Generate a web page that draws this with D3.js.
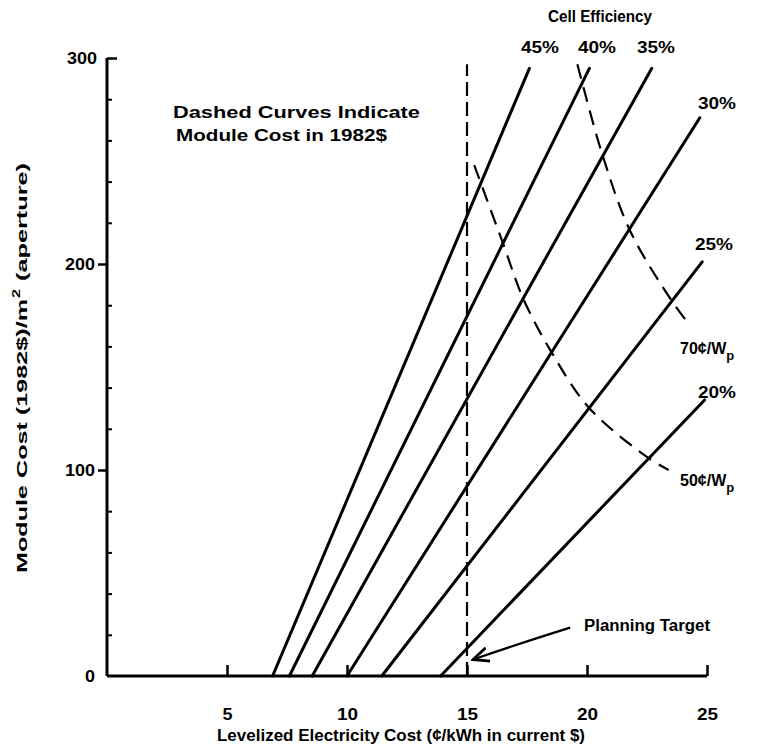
<!DOCTYPE html>
<html><head><meta charset="utf-8">
<script src="https://cdn.jsdelivr.net/npm/d3@7"></script>
<style>
body{margin:0;background:#fff}
svg text{font-family:"Liberation Sans",Arial,sans-serif;font-weight:bold;fill:#000}
</style>
</head><body>
<svg id="c" width="762" height="750"></svg>
<script>
// ---- data ----
const xTicks = [5, 10, 15, 20, 25];
const yTicks = [0, 100, 200, 300];
const yMinorTicks = [20, 40, 60, 80, 120, 140, 160, 180, 220, 240, 260, 280];
const efficiencyLabels = ["45%", "40%", "35%", "30%", "25%", "20%"];
const lineStartX = [6.9, 7.6, 8.55, 10.0, 11.45, 13.9];
const lineStartY = [0, 0, 0, 0, 0, 0];
const lineEndX = [17.6, 20.1, 22.7, 24.7, 24.8, 24.9];
const lineEndY = [295, 295, 295, 271, 201, 134];
const priceLabels = ["70¢/W", "50¢/W"];
const curve70X = [19.6, 19.8, 20.67, 21.8, 23.54, 24.3];
const curve70Y = [297, 288, 252, 216, 182, 170];
const curve50X = [15.3, 16.5, 17.35, 18.53, 20.1, 22.54, 23.4];
const curve50Y = [248, 210, 183, 157, 130, 106, 100];
const planningTarget = 15;
const planningTop = 297;

// ---- chart ----
const svg = d3.select("#c");
const x = d3.scaleLinear().domain([0, 25]).range([107, 707]);
const y = d3.scaleLinear().domain([0, 300]).range([676, 58]);

// x axis
const xAxis = svg.append("g").attr("transform", `translate(0,${y(0)})`)
  .call(d3.axisBottom(x).tickValues(xTicks).tickSize(-11).tickSizeOuter(0).tickPadding(33));
xAxis.select(".domain").attr("stroke-width", 3).attr("d", `M${x(0)},0H${x(25)}`);
xAxis.selectAll(".tick line").attr("stroke-width", 2.5);
xAxis.selectAll(".tick text").style("font-size", "16px").attr("font-family", null)
  .attr("textLength", d => d < 10 ? 10 : 21).attr("lengthAdjust", "spacingAndGlyphs");

// y axis major
const yAxis = svg.append("g").attr("transform", `translate(${x(0)},0)`)
  .call(d3.axisLeft(y).tickValues(yTicks).tickSize(9).tickSizeOuter(0).tickPadding(6));
yAxis.select(".domain").attr("stroke-width", 3).attr("d", `M0,${y(300)}V${y(0)}`);
yAxis.selectAll(".tick line").attr("stroke-width", 2.5)
  .attr("x2", d => d === 0 ? 0 : (d === 300 ? 10 : -9));
yAxis.selectAll(".tick text").style("font-size", "16px").attr("font-family", null)
  .attr("x", d => d === 300 ? -10 : -12)
  .attr("textLength", d => d === 0 ? 10 : 30).attr("lengthAdjust", "spacingAndGlyphs");

// y axis minor
const yMinor = svg.append("g").attr("transform", `translate(${x(0)},0)`)
  .call(d3.axisLeft(y).tickValues(yMinorTicks).tickSize(-5).tickFormat(""));
yMinor.select(".domain").remove();
yMinor.selectAll(".tick line").attr("stroke-width", 2);

// efficiency lines
const eff = efficiencyLabels.map((l, i) => ({
  label: l, pts: [[lineStartX[i], lineStartY[i]], [lineEndX[i], lineEndY[i]]]
}));
const line = d3.line().x(d => x(d[0])).y(d => y(d[1]));
svg.append("g").selectAll("path").data(eff).join("path")
  .attr("d", d => line(d.pts)).attr("fill", "none").attr("stroke", "#000")
  .attr("stroke-width", 3).attr("stroke-linecap", "round");

// planning target vertical dashed
svg.append("path")
  .attr("d", line([[planningTarget, 0], [planningTarget, planningTop]]))
  .attr("stroke", "#000").attr("stroke-width", 2.2).attr("stroke-dasharray", "14,6").attr("fill", "none");

// dashed price curves
const curveLine = d3.line().x(d => x(d[0])).y(d => y(d[1])).curve(d3.curveCatmullRom.alpha(0.5));
const curves = [curve70X.map((v, i) => [v, curve70Y[i]]), curve50X.map((v, i) => [v, curve50Y[i]])];
svg.append("g").selectAll("path").data(curves).join("path")
  .attr("d", d => curveLine(d)).attr("fill", "none").attr("stroke", "#000")
  .attr("stroke-width", 2.2).attr("stroke-dasharray", "15,9");

// efficiency labels
const effLabelPos = [[540, 53], [597, 53], [656, 53], [717, 109], [714, 250], [717, 398]];
svg.append("g").selectAll("text").data(eff).join("text")
  .attr("x", (d, i) => effLabelPos[i][0]).attr("y", (d, i) => effLabelPos[i][1])
  .attr("text-anchor", "middle").style("font-size", "16px")
  .attr("textLength", 38).attr("lengthAdjust", "spacingAndGlyphs").text(d => d.label);

svg.append("text").attr("x", 600).attr("y", 22).attr("text-anchor", "middle")
  .style("font-size", "16px").attr("textLength", 104).attr("lengthAdjust", "spacingAndGlyphs")
  .text("Cell Efficiency");

// price labels
const priceLabelPos = [[680, 354], [680, 486]];
priceLabels.forEach((t, i) => {
  const tx = svg.append("text").attr("x", priceLabelPos[i][0]).attr("y", priceLabelPos[i][1])
    .style("font-size", "16px");
  tx.append("tspan").text(t);
  tx.append("tspan").attr("dy", 6).style("font-size", "13px").text("p");
});

// dashed curves note
svg.append("text").attr("x", 173).attr("y", 118).style("font-size", "16px")
  .attr("textLength", 247).attr("lengthAdjust", "spacingAndGlyphs").text("Dashed Curves Indicate");
svg.append("text").attr("x", 176).attr("y", 141).style("font-size", "16px")
  .attr("textLength", 211).attr("lengthAdjust", "spacingAndGlyphs").text("Module Cost in 1982$");

// planning target
svg.append("text").attr("x", 584).attr("y", 631).style("font-size", "16px")
  .attr("textLength", 126).attr("lengthAdjust", "spacingAndGlyphs").text("Planning Target");
svg.append("defs").append("marker").attr("id", "ah").attr("viewBox", "0 0 10 10")
  .attr("refX", 9).attr("refY", 5).attr("markerWidth", 8).attr("markerHeight", 8)
  .attr("orient", "auto-start-reverse")
  .append("path").attr("d", "M0,1 L9,5 L0,9").attr("fill", "none").attr("stroke", "#000").attr("stroke-width", 1.6);
svg.append("path")
  .attr("d", `M${x(19.3)},${y(23.5)} Q${x(17.5)},${y(17)} ${x(15.25)},${y(8)}`)
  .attr("fill", "none").attr("stroke", "#000").attr("stroke-width", 2.2).attr("marker-end", "url(#ah)");

// axis titles
svg.append("text").attr("x", 401).attr("y", 741).attr("text-anchor", "middle")
  .style("font-size", "16px").attr("textLength", 368).attr("lengthAdjust", "spacingAndGlyphs")
  .text("Levelized Electricity Cost (¢/kWh in current $)");
const yTitle = svg.append("g").attr("transform", "translate(27,0) rotate(-90)");
yTitle.append("text").attr("x", -573).attr("y", 0).style("font-size", "14.5px")
  .attr("textLength", 274).attr("lengthAdjust", "spacingAndGlyphs").text("Module Cost (1982$)/m");
yTitle.append("text").attr("x", -298).attr("y", -7).style("font-size", "11px")
  .attr("textLength", 9).attr("lengthAdjust", "spacingAndGlyphs").text("2");
yTitle.append("text").attr("x", -281).attr("y", 0).style("font-size", "14.5px")
  .attr("textLength", 118).attr("lengthAdjust", "spacingAndGlyphs").text("(aperture)");
</script>
</body></html>
